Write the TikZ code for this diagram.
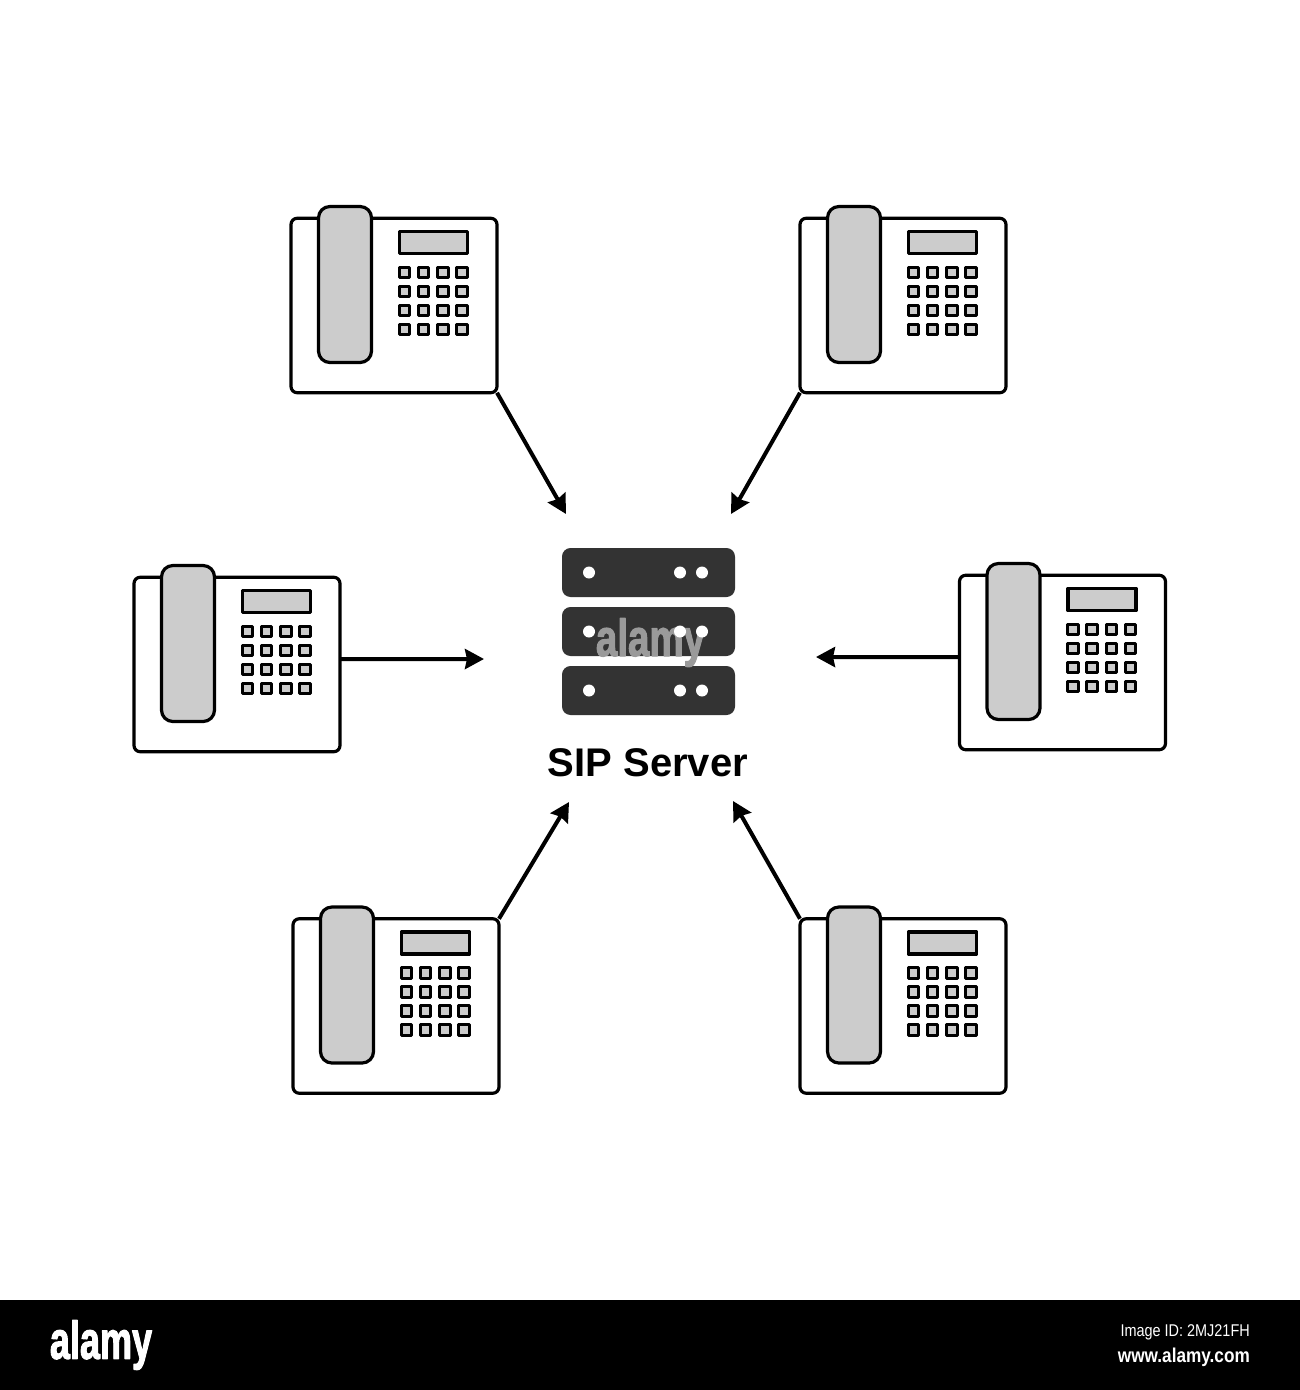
\documentclass[tikz,border=0pt]{standalone}
\usepackage{fontspec}
\setmainfont{Liberation Sans}
\newfontfamily\markfont[FakeBold=2.5]{Liberation Sans Bold}
\usepackage{xcolor}
\usetikzlibrary{arrows.meta}
\definecolor{ink}{HTML}{000000}
\definecolor{softgray}{HTML}{CCCCCC}
\definecolor{rackgray}{HTML}{333333}
\definecolor{markgray}{HTML}{9A9A9A}
\tikzset{
    every picture/.style={line cap=round,line join=round},
    phonebody/.style={draw=ink,fill=white,line width=3.2pt,rounded corners=2.2mm,
      minimum width=206pt,minimum height=174.5pt,inner sep=0pt,outer sep=0pt},
    handset/.style={draw=ink,fill=softgray,line width=3.2pt,rounded corners=4mm,
      minimum width=53pt,minimum height=156pt,inner sep=0pt,outer sep=0pt},
    display/.style={draw=ink,fill=softgray,line width=3.2pt,
      minimum width=68pt,minimum height=22pt,inner sep=0pt,outer sep=0pt},
    keycap/.style={draw=ink,fill=softgray,line width=2.8pt,
      minimum size=10.5pt,inner sep=0pt,outer sep=0pt},
    rackbox/.style={fill=rackgray,rounded corners=3mm,
      minimum width=173pt,minimum height=49pt,inner sep=0pt,outer sep=0pt},
    rackdot/.style={circle,fill=white,minimum size=12pt,inner sep=0pt,outer sep=0pt},
    flowarrow/.style={-{Stealth[length=19pt,width=20pt,inset=2pt]},draw=ink,
      line width=4pt,line cap=butt},
    deskphone/.pic={
      \node[phonebody] (-body) at (0,0) {};
      \node[handset] (-handset) at (-49,-21) {};
      \node[display] (-display) at (39.5,-63) {};
      \foreach \kx [count=\ci] in {10.5,29.5,49,68}
        \foreach \ky [count=\cj] in {-33,-14,5,24}
          \node[keycap] (-key\ci\cj) at (\kx,\ky) {};
    }
}
\begin{document}
\begin{tikzpicture}[x=1pt,y=-1pt]
  \useasboundingbox (0,0) rectangle (1300,1390);
  % phones
  \foreach \pname/\px/\py in {tl/394/305.5,tr/903/305.5,lf/237/664.5,rt/1062.5/662.5,bl/396/1006,br/903/1006}
    \pic (\pname) at (\px,\py) {deskphone};
  % server
  \foreach \ry [count=\ri] in {572.5,631.5,690.5}
    \node[rackbox] (rack\ri) at (648.5,\ry) {};
  \node[font=\markfont\fontsize{52}{52}\selectfont,text=markgray,inner sep=0pt,anchor=base] (mark) at (650.5,656) {\scalebox{0.74}[1]{alamy}};
  \foreach \ry [count=\ri] in {572.5,631.5,690.5}
    \foreach \dx [count=\di] in {589,680,702}
      \node[rackdot] (dot\ri\di) at (\dx,\ry) {};
  \node[font=\bfseries\fontsize{40}{40}\selectfont,text=ink,inner sep=0pt] (label) at (648,762.5) {SIP Server};
  % arrow ends
  \coordinate (tltip) at (566,514);
  \coordinate (trtip) at (731,514);
  \coordinate (lftip) at (484,659);
  \coordinate (rttip) at (816,657);
  \coordinate (bltip) at (569,802);
  \coordinate (brtip) at (733,801);
  \draw[flowarrow] (tl-body.south east)--(tltip);
  \draw[flowarrow] (tr-body.south west)--(trtip);
  \draw[flowarrow] (lf-body.3)--(lftip);
  \draw[flowarrow] (rt-body.177)--(rttip);
  \draw[flowarrow] (bl-body.north east)--(bltip);
  \draw[flowarrow] (br-body.north west)--(brtip);
  % footer
  \node[fill=black,minimum width=1300pt,minimum height=90pt,inner sep=0pt,outer sep=0pt] (footbar) at (650,1345) {};
  \node[font=\markfont\fontsize{53}{53}\selectfont,text=white,inner sep=0pt] (footlogo) at (101,1345) {\scalebox{0.68}[1]{alamy}};
  \node[font=\fontsize{17}{17}\selectfont,text=white,inner sep=0pt,anchor=east] (footid) at (1250,1332) {\scalebox{0.85}[1]{Image ID: 2MJ21FH}};
  \node[font=\bfseries\fontsize{20}{20}\selectfont,text=white,inner sep=0pt,anchor=east] (footurl) at (1250,1357) {\scalebox{0.86}[1]{www.alamy.com}};
\end{tikzpicture}
\end{document}
